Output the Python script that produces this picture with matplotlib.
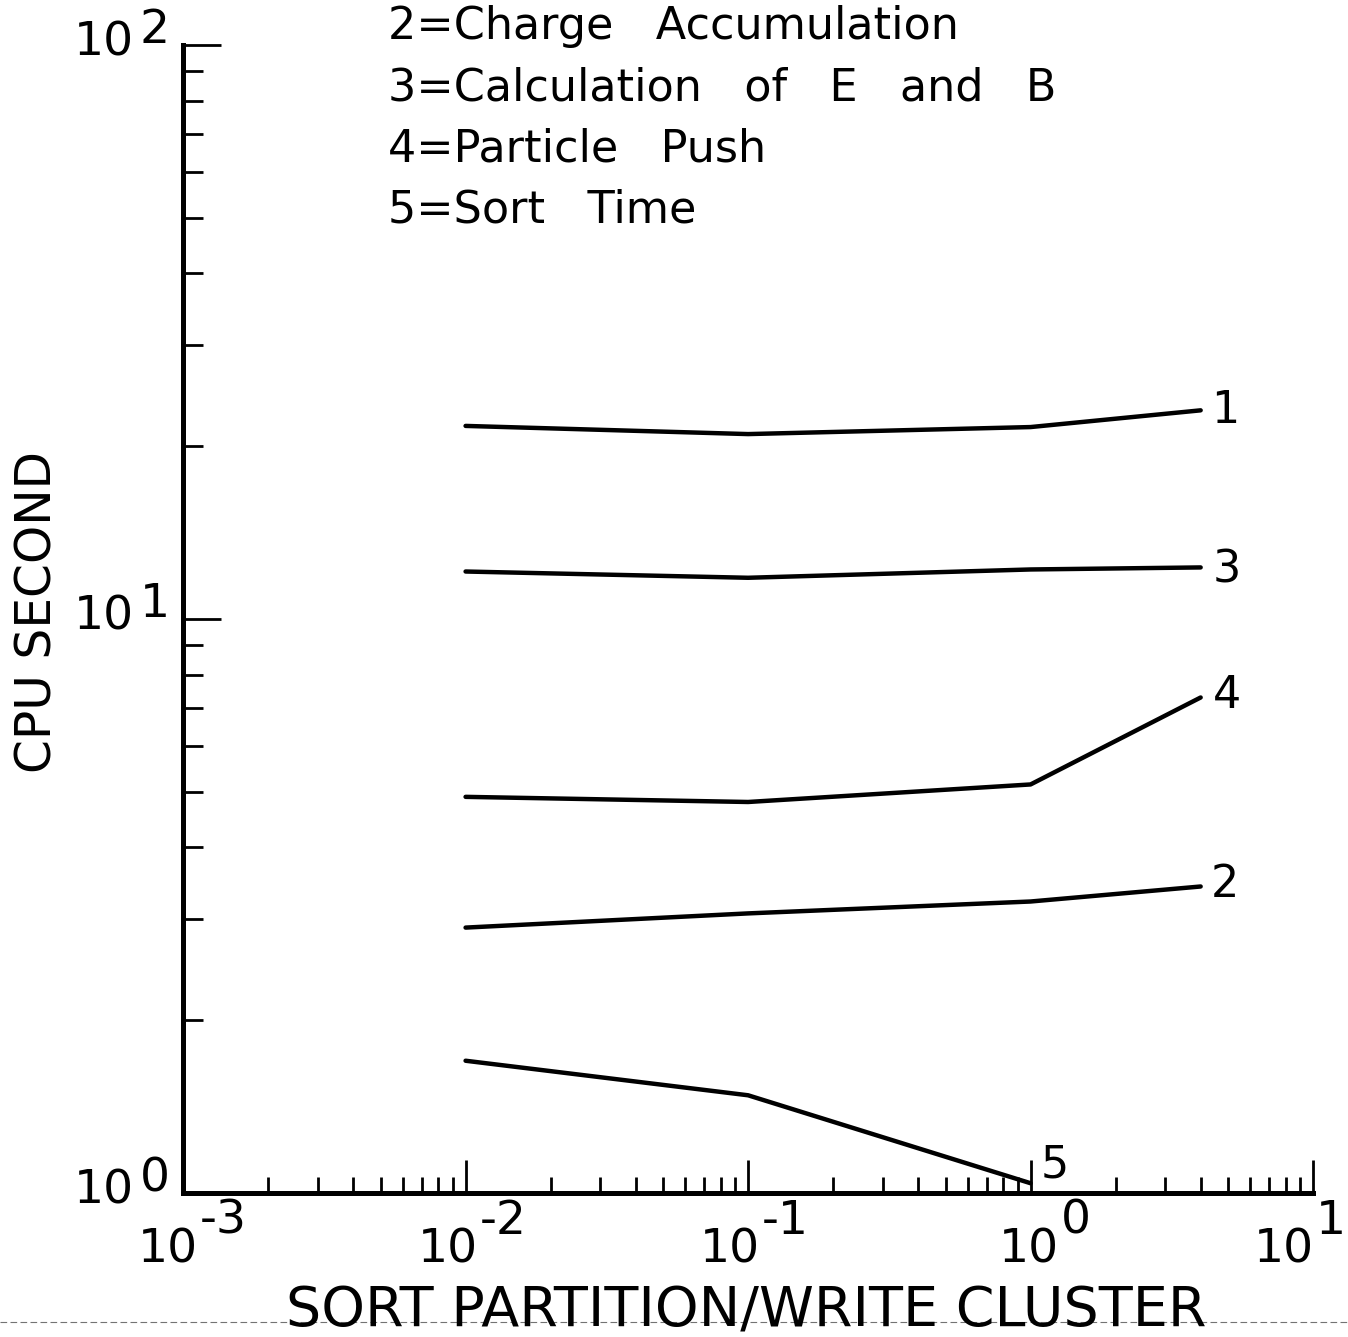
import numpy as np
import matplotlib.pyplot as plt
from matplotlib.lines import Line2D
from matplotlib.ticker import LogLocator, NullFormatter

plt.rcParams['font.family'] = ['DejaVu Sans']

# values
x_vals = [0.01, 0.1, 1.0, 4.0]
total_time = [21.7, 21.0, 21.6, 23.1]        # 1
charge_acc = [2.90, 3.07, 3.22, 3.42]        # 2
calc_eb = [12.1, 11.8, 12.2, 12.3]           # 3
particle_push = [4.90, 4.80, 5.15, 7.3]      # 4
x_sort = [0.01, 0.1, 1.0]
sort_time = [1.70, 1.48, 1.04]               # 5

curves = [
    ("1", x_vals, total_time, (10, 0)),
    ("3", x_vals, calc_eb, (12, -3)),
    ("4", x_vals, particle_push, (12, 2)),
    ("2", x_vals, charge_acc, (10, 2)),
    ("5", x_sort, sort_time, (10, 18)),
]

legend_lines = [
    "2=Charge   Accumulation",
    "3=Calculation   of   E   and   B",
    "4=Particle   Push",
    "5=Sort   Time",
]

x_exps = [-3, -2, -1, 0, 1]
x_label_shift = [15, 12, 12, 28, 1]   # hand lettering is not evenly placed
y_exps = [0, 1, 2]

fig = plt.figure(figsize=(13.48, 13.37), dpi=100)
ax = fig.add_axes([0.1358, 0.1077, 0.8383, 0.8586])
ax.set_xscale('log')
ax.set_yscale('log')
ax.set_xlim(1e-3, 1e1)
ax.set_ylim(1e0, 1e2)

for name, xs, ys, off in curves:
    ax.plot(xs, ys, color='black', linewidth=3.2, solid_capstyle='round')
    ax.annotate(name, xy=(xs[-1], ys[-1]), xytext=off, textcoords='offset pixels',
                ha='left', va='center', fontsize=32)

# axes look
for side in ['top', 'right']:
    ax.spines[side].set_visible(False)
for side in ['left', 'bottom']:
    ax.spines[side].set_linewidth(3.6)

ax.xaxis.set_major_locator(LogLocator(base=10, numticks=10))
ax.xaxis.set_minor_locator(LogLocator(base=10, subs=np.arange(2, 10), numticks=10))
ax.yaxis.set_major_locator(LogLocator(base=10, numticks=10))
ax.yaxis.set_minor_locator(LogLocator(base=10, subs=np.arange(2, 10), numticks=10))
ax.xaxis.set_minor_formatter(NullFormatter())
ax.yaxis.set_minor_formatter(NullFormatter())
ax.tick_params(which='both', direction='in', labelbottom=False, labelleft=False,
               top=False, right=False, width=2.0, color='black')
ax.tick_params(axis='x', which='major', length=24)
ax.tick_params(axis='x', which='minor', length=11.5)
ax.tick_params(axis='y', which='major', length=27)
ax.tick_params(axis='y', which='minor', length=14.5)

# tick labels: "10" with a full size exponent, like the plotter font
for e, dx in zip(x_exps, x_label_shift):
    base = ax.annotate('10', xy=(10.0 ** e, 0), xycoords=('data', 'axes fraction'),
                       xytext=(dx, -57), textcoords='offset pixels',
                       ha='right', va='center', fontsize=34)
    ax.annotate(str(e), xy=(1, 0), xycoords=(base, ax.get_xaxis_transform()),
                xytext=(2, -28), textcoords='offset pixels',
                ha='left', va='center', fontsize=34)

for e in y_exps:
    ex = ax.annotate(str(e), xy=(0, 10.0 ** e), xycoords=('axes fraction', 'data'),
                     xytext=(-13, 2), textcoords='offset pixels',
                     ha='right', va='baseline', fontsize=34)
    ax.annotate('10', xy=(0, 10.0 ** e), xycoords=(ex, ax.get_yaxis_transform()),
                xytext=(-6, 2), textcoords='offset pixels',
                ha='right', va='center', fontsize=34)

# legend text at the top
for i, line in enumerate(legend_lines):
    fig.text(388 / 1348, 1 - (27 + 61 * i) / 1337, line, ha='left', va='center',
             fontsize=32)

fig.text(746 / 1348, 1 - 1312 / 1337, 'SORT PARTITION/WRITE CLUSTER',
         ha='center', va='center', fontsize=40)
fig.text(38 / 1348, 1 - 612 / 1337, 'CPU SECOND', rotation=90,
         ha='center', va='center', fontsize=35)

# page edge dashed line from the scan
fig.add_artist(Line2D([0, 1], [1 - 1322 / 1337] * 2, transform=fig.transFigure,
                      color='0.45', linewidth=0.8, linestyle=(0, (6, 3)), zorder=0))

fig.savefig('out.png', dpi=100)
